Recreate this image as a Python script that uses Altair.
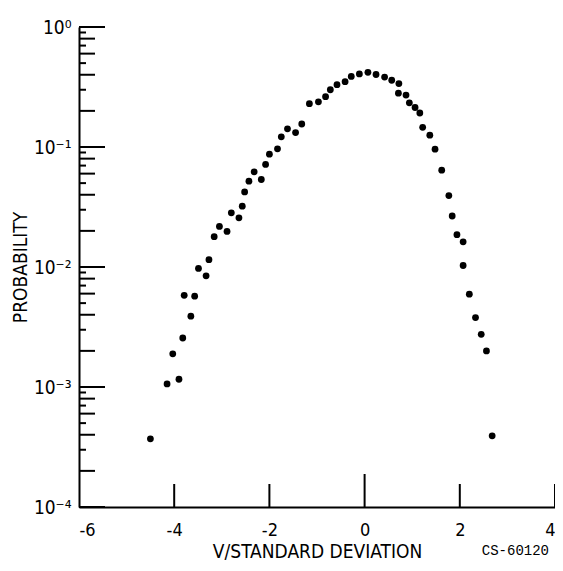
import altair as alt
import pandas as pd

# Data
x_vals = [-4.50, -4.15, -3.90, -4.03, -3.82, -3.65, -3.79, -3.57, -3.49, -3.33,
          -3.27, -3.16, -3.05, -2.89, -2.80, -2.64, -2.57, -2.52, -2.43, -2.32,
          -2.17, -2.08, -2.00, -1.83, -1.75, -1.62, -1.45, -1.32, -1.16, -0.97,
          -0.82, -0.72, -0.58, -0.41, -0.28, -0.11, 0.07, 0.24, 0.42, 0.57,
          0.72, 0.71, 0.87, 0.94, 1.06, 1.16, 1.22, 1.37, 1.48, 1.62,
          1.77, 1.84, 1.94, 2.07, 2.07, 2.20, 2.33, 2.45, 2.56, 2.68]
p_vals = [3.70e-4, 1.06e-3, 1.16e-3, 1.89e-3, 2.56e-3, 3.89e-3, 5.81e-3, 5.71e-3, 9.72e-3, 8.45e-3,
          1.15e-2, 1.79e-2, 2.18e-2, 1.98e-2, 2.83e-2, 2.57e-2, 3.21e-2, 4.22e-2, 5.19e-2, 6.21e-2,
          5.36e-2, 7.15e-2, 8.71e-2, 9.66e-2, 0.1216, 0.1418, 0.132, 0.1555, 0.2296, 0.238,
          0.2625, 0.300, 0.3305, 0.350, 0.387, 0.406, 0.419, 0.402, 0.383, 0.360,
          0.338, 0.281, 0.271, 0.2336, 0.2134, 0.192, 0.146, 0.1254, 0.0959, 0.0641,
          0.0394, 0.0266, 0.01858, 0.01622, 0.01029, 5.93e-3, 3.79e-3, 2.75e-3, 2.00e-3, 3.92e-4]

# Axis tick positions
y_decades = [1e-4, 1e-3, 1e-2, 1e-1, 1.0]
y_minor_even = [2e-4, 4e-4, 6e-4, 8e-4, 2e-3, 4e-3, 6e-3, 8e-3,
                2e-2, 4e-2, 6e-2, 8e-2, 0.2, 0.4, 0.6, 0.8]
y_minor_odd = [3e-4, 5e-4, 7e-4, 9e-4, 3e-3, 5e-3, 7e-3, 9e-3,
               3e-2, 5e-2, 7e-2, 9e-2, 0.3, 0.5, 0.7, 0.9]
x_ticks = [-4, -2, 2, 4]
x_center_tick = [0]
x_labels = [-6, -4, -2, 0, 2, 4]
note = ["CS-60120"]

FONT = "Liberation Sans Narrow, DejaVu Sans Condensed, Liberation Sans, sans-serif"

xscale = alt.Scale(domain=[-6, 4], nice=False, zero=False)
yscale = alt.Scale(type="log", domain=[1e-4, 1], nice=False)

pts = pd.DataFrame({"x": x_vals, "p": p_vals})

label_expr = ("datum.value >= 0.5 ? '10⁰' : datum.value >= 0.05 ? '10⁻¹' : "
              "datum.value >= 0.005 ? '10⁻²' : datum.value >= 0.0005 ? '10⁻³' : '10⁻⁴'")

points = alt.Chart(pts).mark_circle(size=46, color="black", opacity=1).encode(
    x=alt.X("x:Q", scale=xscale, axis=alt.Axis(
        values=x_labels, labelExpr="'' + datum.value", ticks=False, tickSize=0,
        grid=False, domainColor="black", domainWidth=2, labelPadding=14,
        labelFont=FONT, labelFontSize=18, labelColor="black",
        title="V/STANDARD DEVIATION", titleFont=FONT, titleFontSize=19,
        titleFontWeight="normal", titleColor="black", titlePadding=3)),
    y=alt.Y("p:Q", scale=yscale, axis=alt.Axis(
        values=y_decades, labelExpr=label_expr, ticks=False, tickSize=0,
        grid=False, domainColor="black", domainWidth=2, labelPadding=8,
        labelFont=FONT, labelFontSize=19, labelColor="black",
        title="PROBABILITY", titleFont=FONT, titleFontSize=19,
        titleFontWeight="normal", titleColor="black", titlePadding=3)),
)


def yticks(vals, length):
    return alt.Chart(pd.DataFrame({"v": vals})).mark_rule(color="black", strokeWidth=2).encode(
        y=alt.Y("v:Q", scale=yscale),
        x=alt.value(0), x2=alt.value(length))


def xticks(vals, length):
    return alt.Chart(pd.DataFrame({"v": vals})).mark_rule(color="black", strokeWidth=2).encode(
        x=alt.X("v:Q", scale=xscale),
        y=alt.value(480), y2=alt.value(480 - length))


note_layer = alt.Chart(pd.DataFrame({"t": note})).mark_text(
    align="right", baseline="middle", font="Liberation Mono", fontSize=14, color="black"
).encode(text="t:N", x=alt.value(470), y=alt.value(524))

chart = alt.layer(
    points,
    yticks(y_decades, 26), yticks(y_minor_even, 16), yticks(y_minor_odd, 7),
    xticks(x_ticks, 23), xticks(x_center_tick, 33),
    note_layer,
).properties(
    width=476, height=480,
    autosize=alt.AutoSizeParams(type="none"),
    padding={"left": 71, "top": 19, "right": 0, "bottom": 56},
    background="white",
).configure_view(stroke="transparent")

chart.save("out.html", embed_options={"renderer": "svg", "actions": False})
